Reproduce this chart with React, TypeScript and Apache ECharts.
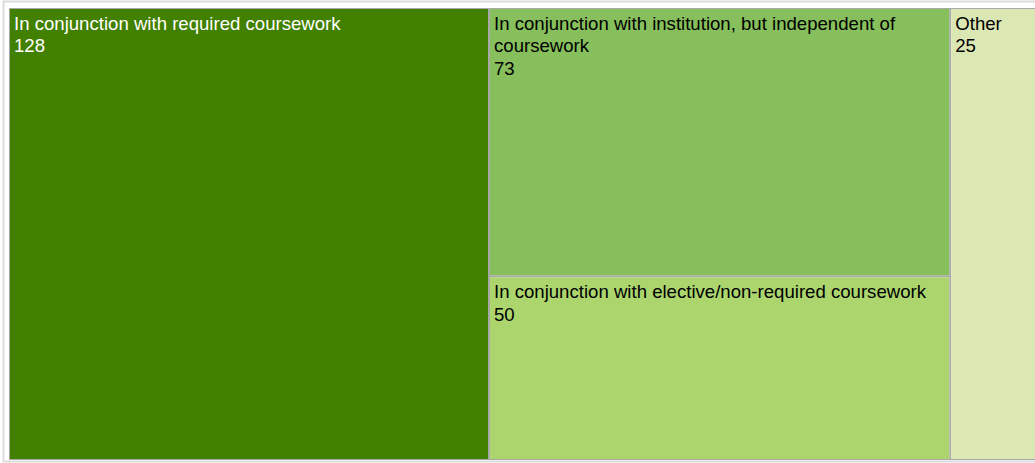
import React, { useEffect, useRef } from "react";
import * as echarts from "echarts";

const categories = [
  "In conjunction with required coursework",
  "In conjunction with institution, but independent of coursework",
  "In conjunction with elective/non-required coursework",
  "Other",
];
const values = [128, 73, 50, 25];
const fillColors = ["#428000", "#87bf5c", "#acd56e", "#dce8b3"];
const textColors = ["#ffffff", "#000000", "#000000", "#000000"];

export default function App() {
  const ref = useRef<HTMLDivElement>(null);
  useEffect(() => {
    if (!ref.current) return;
    const chart = echarts.init(ref.current, undefined, { renderer: "svg" });
    chart.setOption({
      animation: false,
      graphic: [
        {
          type: "rect",
          shape: { x: 3.5, y: 1.5, width: 1060, height: 460 },
          style: { fill: "none", stroke: "#dcdcdc", lineWidth: 2 },
          z: 0,
        },
      ],
      series: [
        {
          type: "treemap",
          left: 9,
          top: 8,
          width: 1035,
          height: 452,
          roam: false,
          nodeClick: false,
          breadcrumb: { show: false },
          sort: "desc",
          levels: [
            {
              itemStyle: { borderColor: "#a9a9a9", borderWidth: 1, gapWidth: 2 },
            },
            {
              itemStyle: { borderWidth: 0, gapWidth: 0 },
            },
          ],
          label: {
            show: true,
            position: "insideTopLeft",
            formatter: "{b}\n{c}",
            fontFamily: "Arial, 'Liberation Sans', sans-serif",
            fontSize: 18.6,
            lineHeight: 22.5,
            padding: [3, 4, 0, 4],
            overflow: "break",
          },
          upperLabel: { show: false },
          emphasis: { disabled: true },
          data: categories.map((name, i) => ({
            name,
            value: values[i],
            itemStyle: { color: fillColors[i] },
            label: { color: textColors[i] },
          })),
        },
      ],
    });
    return () => chart.dispose();
  }, []);
  return (
    <div
      style={{
        position: "absolute",
        left: 0,
        top: 0,
        width: 1035,
        height: 463,
        overflow: "hidden",
        background: "#fff",
      }}
    >
      <div ref={ref} style={{ width: 1060, height: 463 }} />
    </div>
  );
}
